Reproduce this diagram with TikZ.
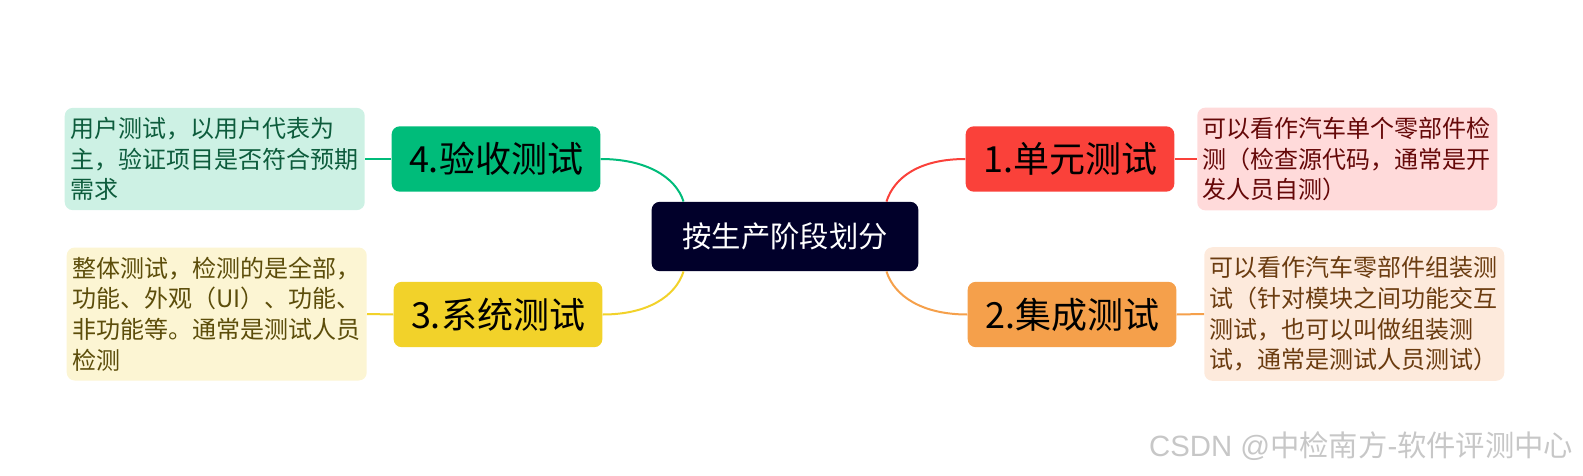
\documentclass[tikz,border=0pt]{standalone}
\usepackage{fontspec}
\setmainfont{Noto Sans CJK SC}
\newfontfamily\latinwm{Liberation Sans}
\usepackage{tikz}

\definecolor{rootbg}{HTML}{01002A}
\definecolor{redA}{HTML}{FA413A}
\definecolor{redB}{HTML}{FFDADA}
\definecolor{redC}{HTML}{650808}
\definecolor{orgA}{HTML}{F5A04B}
\definecolor{orgB}{HTML}{FDEADC}
\definecolor{orgC}{HTML}{6B3C10}
\definecolor{grnA}{HTML}{00BC7A}
\definecolor{grnB}{HTML}{CDF1E4}
\definecolor{grnC}{HTML}{0D5C3C}
\definecolor{ylwA}{HTML}{F2D22A}
\definecolor{ylwB}{HTML}{FCF5D3}
\definecolor{ylwC}{HTML}{5C4D0A}

\begin{document}
\begin{tikzpicture}[x=0.75pt,y=-0.75pt,
    root/.style={fill=rootbg,text=white,rounded corners=6pt,minimum height=52pt,
      inner xsep=23pt,font=\fontsize{22}{26}\selectfont},
    branch/.style={rounded corners=6pt,minimum height=49pt,inner xsep=13pt,
      font=\fontsize{27}{30}\selectfont},
    note/.style={rounded corners=6pt,text width=217pt,align=left,inner xsep=4pt,
      inner ysep=7pt,font=\fontsize{18}{23}\selectfont},
    link/.style={line width=1.5pt}]
  \useasboundingbox (0,0) rectangle (1583,475);
  % centro
  \node[root] (ctr) at (785,236.5) {按生产阶段划分};
  % ramas
  \node[branch,fill=redA] (unit) at (1070,159) {1.单元测试};
  \node[branch,fill=orgA] (integ) at (1072,314.5) {2.集成测试};
  \node[branch,fill=ylwA] (sys) at (498,314.5) {3.系统测试};
  \node[branch,fill=grnA] (accept) at (496,159) {4.验收测试};
  % notas
  \node[note,fill=redB,text=redC,anchor=west] (unitnote) at (1197,159)
    {可以看作汽车单个零部件检\\测（检查源代码，通常是开\\发人员自测）};
  \node[note,fill=orgB,text=orgC,anchor=west] (integnote) at (1204,314)
    {可以看作汽车零部件组装测\\试（针对模块之间功能交互\\测试，也可以叫做组装测\\试，通常是测试人员测试）};
  \node[note,fill=ylwB,text=ylwC,anchor=east] (sysnote) at (367,314)
    {整体测试，检测的是全部，\\功能、外观（UI）、功能、\\非功能等。通常是测试人员\\检测};
  \node[note,fill=grnB,text=grnC,anchor=east] (acceptnote) at (365,159)
    {用户测试，以用户代表为\\主，验证项目是否符合预期\\需求};
  % conexiones
  \draw[link,redA] (ctr.19) .. controls +(8,-25) and +(-45,0) .. (unit.west);
  \draw[link,orgA] (ctr.-19) .. controls +(8,25) and +(-45,0) .. (integ.west);
  \draw[link,ylwA] (ctr.-161) .. controls +(-8,25) and +(45,0) .. (sys.east);
  \draw[link,grnA] (ctr.161) .. controls +(-8,-25) and +(45,0) .. (accept.east);
  \draw[link,redA] (unit.east) -- (unitnote.west);
  \draw[link,orgA] (integ.east) -- (integnote.west);
  \draw[link,ylwA] (sys.west) -- (sysnote.east);
  \draw[link,grnA] (accept.west) -- (acceptnote.east);
  % marca de agua
  \node[anchor=east,text=black!22,font=\fontsize{22}{25}\selectfont] (mark) at (1578,446)
    {{\latinwm CSDN @}中检南方{\latinwm -}软件评测中心};
\end{tikzpicture}
\end{document}
